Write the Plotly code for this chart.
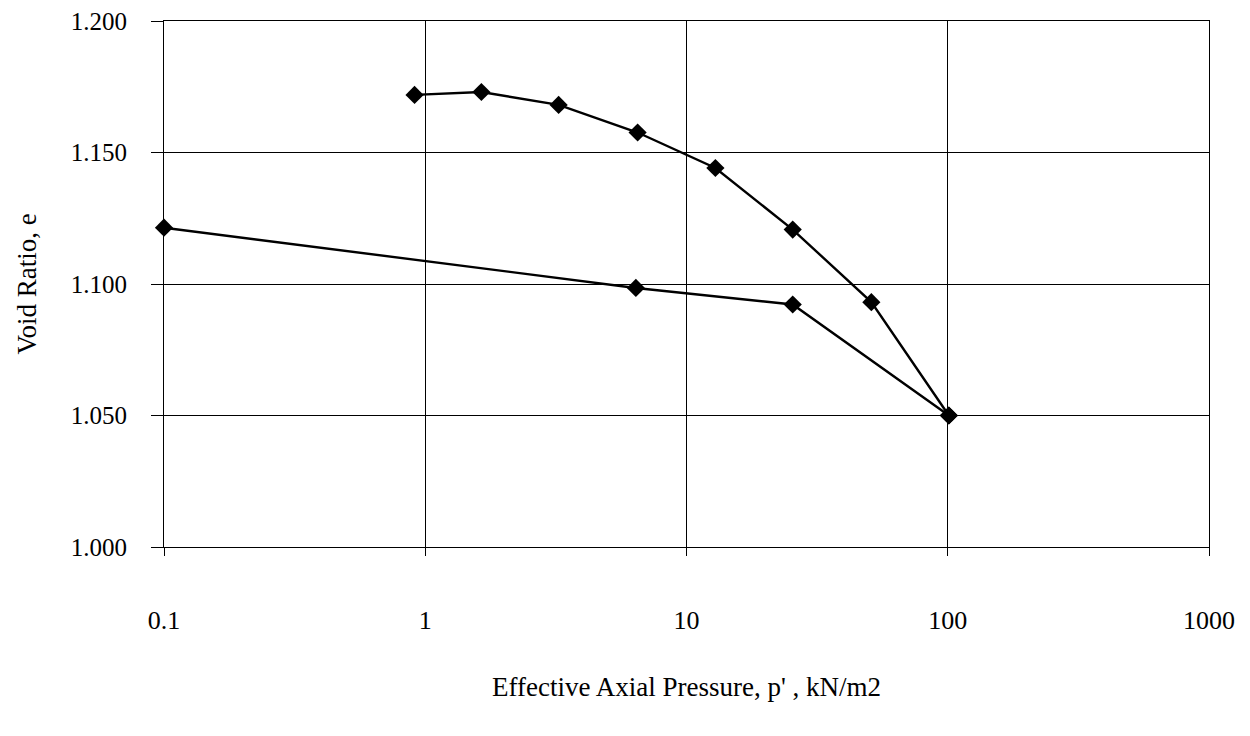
import plotly.graph_objects as go

# Loading branch
load_p = [0.91, 1.64, 3.24, 6.5, 12.9, 25.5, 51.0, 101.0]
load_e = [1.1719, 1.1730, 1.1681, 1.1576, 1.1441, 1.1207, 1.0931, 1.0500]
# Unloading branch
unload_p = [101.0, 25.5, 6.4, 0.1]
unload_e = [1.0500, 1.0922, 1.0985, 1.1214]

x_ticks = [0.1, 1, 10, 100, 1000]
x_tick_text = ["0.1", "1", "10", "100", "1000"]
y_ticks = [1.000, 1.050, 1.100, 1.150, 1.200]

font_family = "Liberation Serif, Times New Roman, serif"

fig = go.Figure()
for xs, ys in [(load_p, load_e), (unload_p, unload_e)]:
    fig.add_trace(go.Scatter(
        x=xs, y=ys, mode="lines+markers",
        line=dict(color="black", width=2.4),
        marker=dict(symbol="diamond", size=14, color="black"),
        showlegend=False, cliponaxis=False,
    ))

fig.update_layout(
    width=1250, height=736,
    margin=dict(l=156, r=49, t=13, b=197, autoexpand=False),
    paper_bgcolor="white", plot_bgcolor="white",
    font=dict(family=font_family, color="black", size=20),
)
fig.update_xaxes(
    type="log", range=[-1, 3],
    tickvals=x_ticks, ticktext=x_tick_text,
    showgrid=True, gridcolor="black", gridwidth=1,
    showline=True, linecolor="black", linewidth=1, mirror=True,
    ticks="outside", ticklen=8, tickcolor="black",
    ticklabelstandoff=42, ticklabeloverflow="allow", automargin=False,
    tickfont=dict(size=26, family=font_family),
    title=dict(text="Effective Axial Pressure, p' , kN/m2", standoff=42,
               font=dict(size=27, family=font_family)),
    zeroline=False,
)
fig.update_yaxes(
    range=[1.0, 1.2], tickvals=y_ticks, tickformat=".3f",
    showgrid=True, gridcolor="black", gridwidth=1,
    showline=True, linecolor="black", linewidth=1, mirror=True,
    ticks="outside", ticklen=12, tickcolor="black",
    ticklabelstandoff=19, ticklabeloverflow="allow", automargin=False,
    tickfont=dict(size=25, family=font_family),
    title=dict(text="Void Ratio, e", standoff=26,
               font=dict(size=27, family=font_family)),
    zeroline=False,
)

fig.write_html("out.html")
